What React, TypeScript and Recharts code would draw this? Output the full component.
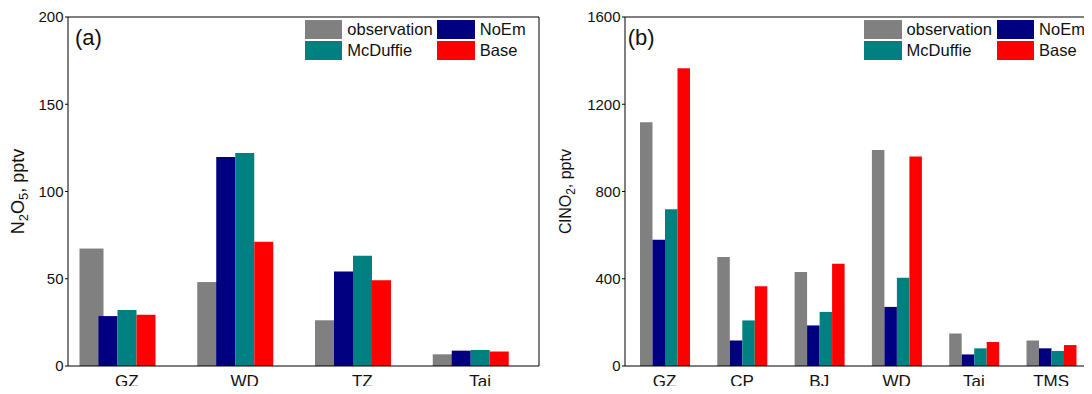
import { BarChart, Bar, XAxis, YAxis, Legend } from "recharts";

const FONT = "'Liberation Sans', Arial, sans-serif";

const sitesA = ["GZ", "WD", "TZ", "Tai"];
const obsA = [67.3, 48.1, 26.2, 6.7];
const noEmA = [28.6, 119.8, 54.2, 8.8];
const mcdA = [32.1, 122.1, 63.2, 9.2];
const baseA = [29.4, 71.2, 49.2, 8.3];
const ticksA = [0, 50, 100, 150, 200];

const sitesB = ["GZ", "CP", "BJ", "WD", "Tai", "TMS"];
const obsB = [1117, 500, 431, 990, 149, 117];
const noEmB = [579, 117, 186, 271, 53, 81];
const mcdB = [719, 209, 248, 405, 81, 69];
const baseB = [1365, 366, 469, 960, 110, 96];
const ticksB = [0, 400, 800, 1200, 1600];

const SERIES = ["observation", "NoEm", "McDuffie", "Base"];
const COLORS: Record<string, string> = { observation: "#808080", NoEm: "#000080", McDuffie: "#008080", Base: "#ff0000" };

const dataA = sitesA.map((site, i) => ({ site, observation: obsA[i], NoEm: noEmA[i], McDuffie: mcdA[i], Base: baseA[i] }));
const dataB = sitesB.map((site, i) => ({ site, observation: obsB[i], NoEm: noEmB[i], McDuffie: mcdB[i], Base: baseB[i] }));

// origin draws the observation bar a bit wider, the next bar covers it
const WideBar = (props: any) => (
  <rect x={props.x} y={props.y} width={props.width + 5} height={props.height} fill={props.fill} />
);

const XTick = ({ x, y, payload, shift }: any) => (
  <text x={x + shift} y={y} dy="0.71em" textAnchor="middle" fontSize={17} fill="#111" fontFamily={FONT}>
    {payload.value}
  </text>
);

const renderLegend = ({ payload }: any) => {
  const items = [...(payload || [])].sort((a: any, b: any) => SERIES.indexOf(a.value) - SERIES.indexOf(b.value));
  return (
    <div style={{ display: "grid", gridTemplateColumns: "132.5px auto", rowGap: 2.3, fontFamily: FONT, fontSize: 16.5, color: "#111" }}>
      {items.map((e: any) => (
        <div key={e.value} style={{ display: "flex", alignItems: "center", height: 19 }}>
          <span style={{ width: 37.6, height: 19, background: e.color, marginRight: 5, flex: "none" }} />
          <span>{e.value}</span>
        </div>
      ))}
    </div>
  );
};

const N2O5Label = ({ viewBox }: any) => {
  const cx = viewBox.x + 24;
  const cy = viewBox.y + viewBox.height / 2;
  return (
    <text transform={`rotate(-90 ${cx} ${cy})`} x={cx} y={cy} textAnchor="middle" fontSize={18} fill="#111" fontFamily={FONT}>
      N<tspan fontSize={13} dy={4}>2</tspan>
      <tspan dy={-4}>O</tspan>
      <tspan fontSize={13} dy={4}>5</tspan>
      <tspan dy={-4}>, pptv</tspan>
    </text>
  );
};

const ClNO2Label = ({ viewBox }: any) => {
  const cx = viewBox.x + 24.5;
  const cy = viewBox.y + viewBox.height / 2;
  return (
    <text transform={`rotate(-90 ${cx} ${cy})`} x={cx} y={cy} textAnchor="middle" fontSize={16} fill="#111" fontFamily={FONT}>
      ClNO<tspan fontSize={12} dy={4}>2</tspan>
      <tspan dy={-4}>, pptv</tspan>
    </text>
  );
};

const axisStroke = { stroke: "#000" };

function Panel({ data, ticks, max, width, yWidth, barSize, pad, shift, wideObs, legendLeft, tag, tagLeft, ylabel }: any) {
  return (
    <div style={{ position: "relative", width, height: 394, flex: "none" }}>
      <BarChart width={width} height={394} data={data} margin={{ top: 16, right: 6, bottom: 0, left: 0 }} barGap={0} barSize={barSize}>
        <XAxis
          dataKey="site"
          height={28}
          padding={pad}
          tickLine={false}
          tickSize={6}
          tickMargin={3}
          axisLine={axisStroke}
          tick={(p: any) => <XTick {...p} shift={shift} />}
        />
        <XAxis xAxisId="top" orientation="top" dataKey="site" height={1} tick={false} tickLine={false} axisLine={axisStroke} />
        <YAxis
          domain={[0, max]}
          ticks={ticks}
          width={yWidth}
          tickSize={3}
          tickMargin={1.5}
          axisLine={axisStroke}
          tickLine={axisStroke}
          tick={{ fontSize: 15, fill: "#111", fontFamily: FONT }}
          label={{ content: ylabel }}
        />
        <YAxis yAxisId="right" orientation="right" width={1} tick={false} tickLine={false} axisLine={axisStroke} />
        <Legend layout="vertical" align="center" verticalAlign="middle" wrapperStyle={{ top: 20, left: legendLeft, width: 240 }} content={renderLegend} />
        <Bar dataKey="observation" name="observation" fill={COLORS.observation} isAnimationActive={false} shape={wideObs ? WideBar : undefined} />
        <Bar dataKey="NoEm" name="NoEm" fill={COLORS.NoEm} isAnimationActive={false} />
        <Bar dataKey="McDuffie" name="McDuffie" fill={COLORS.McDuffie} isAnimationActive={false} />
        <Bar dataKey="Base" name="Base" fill={COLORS.Base} isAnimationActive={false} />
      </BarChart>
      <div style={{ position: "absolute", left: tagLeft, top: 26.8, fontSize: 22, lineHeight: 1, fontFamily: FONT, color: "#111" }}>{tag}</div>
    </div>
  );
}

export default function App() {
  return (
    <div style={{ margin: -8, width: 1092, height: 394, overflow: "hidden", display: "flex", background: "#fff" }}>
      <Panel data={dataA} ticks={ticksA} max={200} width={546} yWidth={68} barSize={19} pad={{ left: -9.5, right: 9.5 }} shift={9.5} wideObs legendLeft={304.7} tag="(a)" tagLeft={75} ylabel={N2O5Label} />
      <Panel data={dataB} ticks={ticksB} max={1600} width={554} yWidth={79} barSize={12.5} pad={{ left: 1, right: 3.2 }} shift={0} wideObs={false} legendLeft={318} tag="(b)" tagLeft={81.7} ylabel={ClNO2Label} />
    </div>
  );
}
